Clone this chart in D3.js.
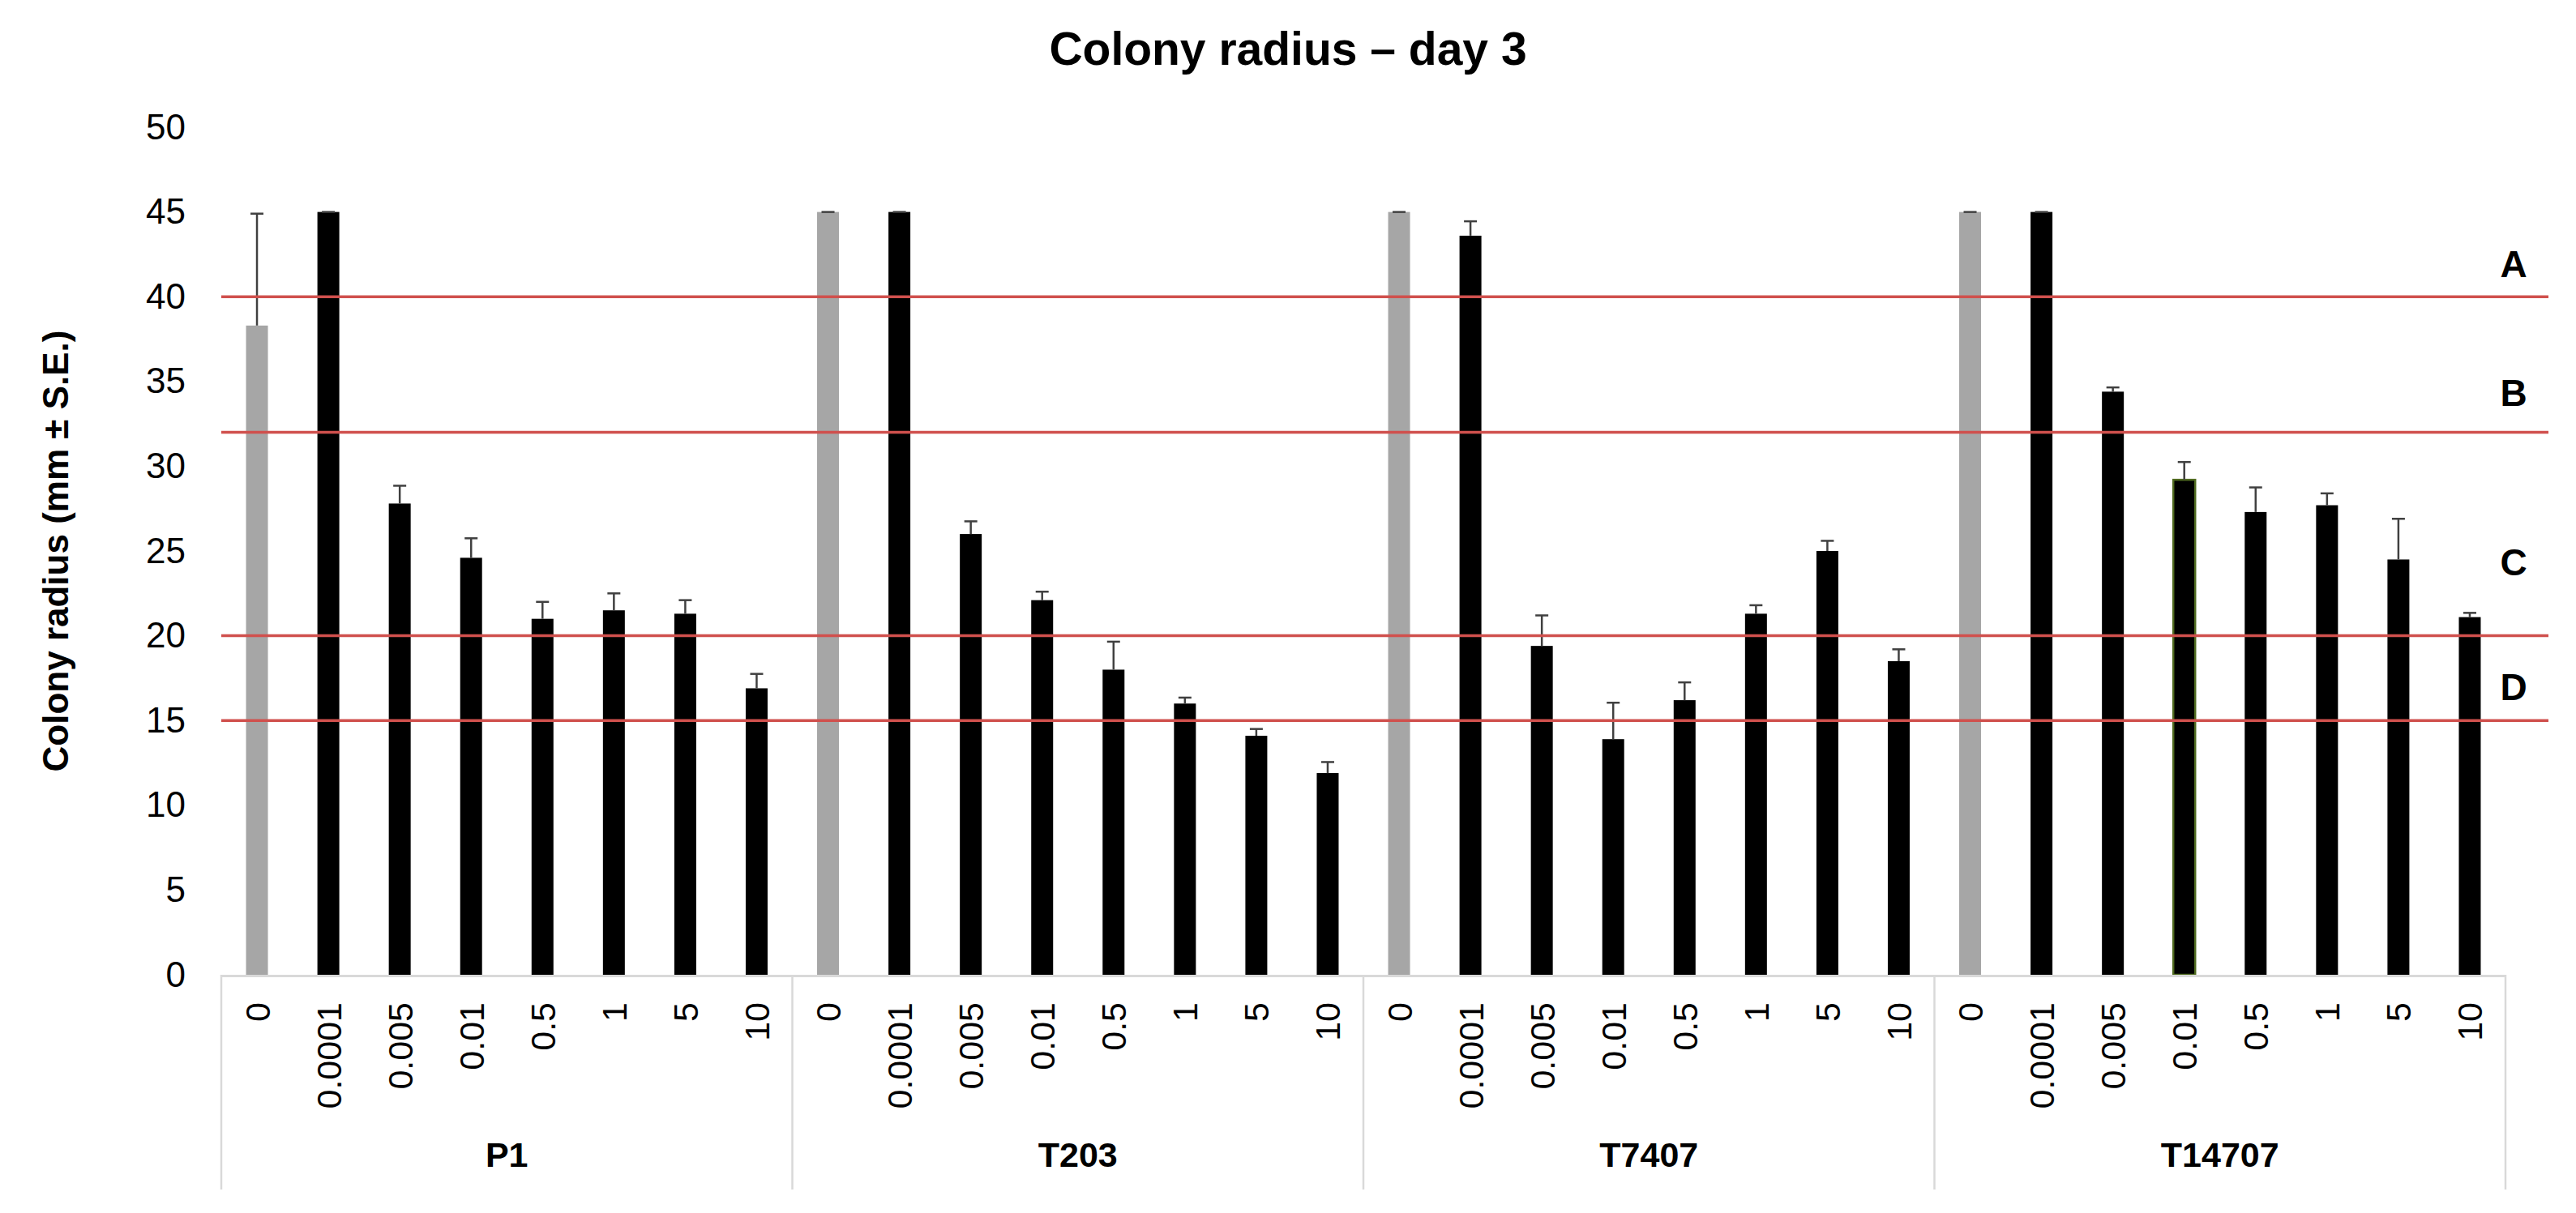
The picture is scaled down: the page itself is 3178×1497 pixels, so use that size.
<!DOCTYPE html>
<html>
<head>
<meta charset="utf-8">
<script src="https://cdn.jsdelivr.net/npm/d3@7"></script>
<style>
  html, body { margin: 0; padding: 0; background: #ffffff; }
  svg { display: block; }
  text { font-family: "Liberation Sans", Arial, sans-serif; }
</style>
</head>
<body>
<svg id="chart" width="3178" height="1497"></svg>
<script>
// ---------------- DATA ----------------
const title = "Colony radius \u2013 day 3";
const yTitle = "Colony radius (mm \u00b1 S.E.)";
const groups = ["P1", "T203", "T7407", "T14707"];
const concentrations = ["0", "0.0001", "0.005", "0.01", "0.5", "1", "5", "10"];
const yTicks = [0, 5, 10, 15, 20, 25, 30, 35, 40, 45, 50];

const meansP1     = [38.3, 45.0, 27.8, 24.6, 21.0, 21.5, 21.3, 16.9];
const seP1        = [6.6, 0.0, 1.05, 1.15, 1.0, 1.0, 0.8, 0.85];
const meansT203   = [45.0, 45.0, 26.0, 22.1, 18.0, 16.0, 14.1, 11.9];
const seT203      = [0.0, 0.0, 0.75, 0.5, 1.65, 0.35, 0.4, 0.65];
const meansT7407  = [45.0, 43.6, 19.4, 13.9, 16.2, 21.3, 25.0, 18.5];
const seT7407     = [0.0, 0.85, 1.8, 2.15, 1.05, 0.5, 0.6, 0.7];
const meansT14707 = [45.0, 45.0, 34.4, 29.2, 27.3, 27.7, 24.5, 21.1];
const seT14707    = [0.0, 0.0, 0.25, 1.05, 1.45, 0.7, 2.4, 0.25];

const thresholds = [40, 32, 20, 15];
const thresholdLabels = ["A", "B", "C", "D"];

// ---------------- BUILD TABLE ----------------
const meansAll = [meansP1, meansT203, meansT7407, meansT14707];
const seAll = [seP1, seT203, seT7407, seT14707];
const rows = [];
groups.forEach((g, gi) => {
  concentrations.forEach((c, ci) => {
    rows.push({ key: g + "|" + c, group: g, conc: c, gi, ci,
                mean: meansAll[gi][ci], se: seAll[gi][ci] });
  });
});

// ---------------- LAYOUT ----------------
const svg = d3.select("#chart");
const plotLeft = 273, plotRight = 3091;
const yZero = 1203, yTop = 157;
const labelX = 3101, redRight = 3144;

const x = d3.scaleBand().domain(rows.map(d => d.key)).range([plotLeft, plotRight]).paddingInner(0).paddingOuter(0);
const y = d3.scaleLinear().domain([0, 50]).range([yZero, yTop]);
const barW = 27;

// Title
svg.append("text")
  .attr("x", 1589).attr("y", 80)
  .attr("text-anchor", "middle")
  .attr("font-size", 57).attr("font-weight", "bold").attr("fill", "#000")
  .text(title);

// Y axis title
svg.append("text")
  .attr("transform", "translate(84,680) rotate(-90)")
  .attr("text-anchor", "middle")
  .attr("font-size", 44).attr("font-weight", "bold").attr("fill", "#000")
  .text(yTitle);

// Y axis (labels only)
const yAxis = d3.axisLeft(y).tickValues(yTicks).tickSize(0).tickPadding(0);
const yG = svg.append("g").attr("transform", `translate(229,0)`).call(yAxis);
yG.select(".domain").remove();
yG.selectAll("text").attr("font-size", 44).attr("fill", "#000")
  .attr("font-family", "'Liberation Sans', Arial, sans-serif");

// Bars
svg.append("g").selectAll("rect").data(rows).join("rect")
  .attr("x", d => x(d.key) + x.bandwidth() / 2 - barW / 2)
  .attr("y", d => y(d.mean))
  .attr("width", barW)
  .attr("height", d => y(0) - y(d.mean))
  .attr("fill", d => d.ci === 0 ? "#a6a6a6" : "#000000")
  .attr("stroke", d => (d.gi === 3 && d.ci === 3) ? "#4f6a1f" : "none")
  .attr("stroke-width", 2.5);

// Error bars (positive only)
const eb = svg.append("g").attr("stroke", "#404040").attr("stroke-width", 2.5);
eb.selectAll("line.v").data(rows).join("line").attr("class", "v")
  .attr("x1", d => x(d.key) + x.bandwidth() / 2)
  .attr("x2", d => x(d.key) + x.bandwidth() / 2)
  .attr("y1", d => y(d.mean))
  .attr("y2", d => y(d.mean + d.se));
eb.selectAll("line.c").data(rows).join("line").attr("class", "c")
  .attr("x1", d => x(d.key) + x.bandwidth() / 2 - 8)
  .attr("x2", d => x(d.key) + x.bandwidth() / 2 + 8)
  .attr("y1", d => y(d.mean + d.se))
  .attr("y2", d => y(d.mean + d.se));

// Red threshold lines
svg.append("g").selectAll("line").data(thresholds).join("line")
  .attr("x1", plotLeft).attr("x2", redRight)
  .attr("y1", d => y(d)).attr("y2", d => y(d))
  .attr("stroke", "#d0504d").attr("stroke-width", 3.5);

// Threshold letters
const letterValues = [41.95, 34.35, 24.35, 17.0];
svg.append("g").selectAll("text").data(thresholdLabels).join("text")
  .attr("x", labelX)
  .attr("y", (d, i) => y(letterValues[i]))
  .attr("dy", "0.36em")
  .attr("text-anchor", "middle")
  .attr("font-size", 46).attr("font-weight", "bold").attr("fill", "#000")
  .text(d => d);

// X axis line
svg.append("line")
  .attr("x1", plotLeft - 1).attr("x2", plotRight)
  .attr("y1", yZero + 1.5).attr("y2", yZero + 1.5)
  .attr("stroke", "#d9d9d9").attr("stroke-width", 3);

// Group separators
const groupEdges = groups.map((g, i) => x(g + "|" + concentrations[0])).concat([plotRight]);
svg.append("g").selectAll("line").data(groupEdges).join("line")
  .attr("x1", d => d).attr("x2", d => d)
  .attr("y1", yZero).attr("y2", 1468)
  .attr("stroke", "#d9d9d9").attr("stroke-width", 2.5);

// Category labels (rotated)
svg.append("g").selectAll("text").data(rows).join("text")
  .attr("transform", d => `translate(${x(d.key) + x.bandwidth() / 2},1237) rotate(-90)`)
  .attr("text-anchor", "end")
  .attr("dy", "0.36em")
  .attr("font-size", 43).attr("fill", "#000")
  .text(d => d.conc);

// Group labels
svg.append("g").selectAll("text").data(groups).join("text")
  .attr("x", (d, i) => (groupEdges[i] + groupEdges[i + 1]) / 2)
  .attr("y", 1440)
  .attr("text-anchor", "middle")
  .attr("font-size", 43).attr("font-weight", "bold").attr("fill", "#000")
  .text(d => d);
</script>
</body>
</html>
